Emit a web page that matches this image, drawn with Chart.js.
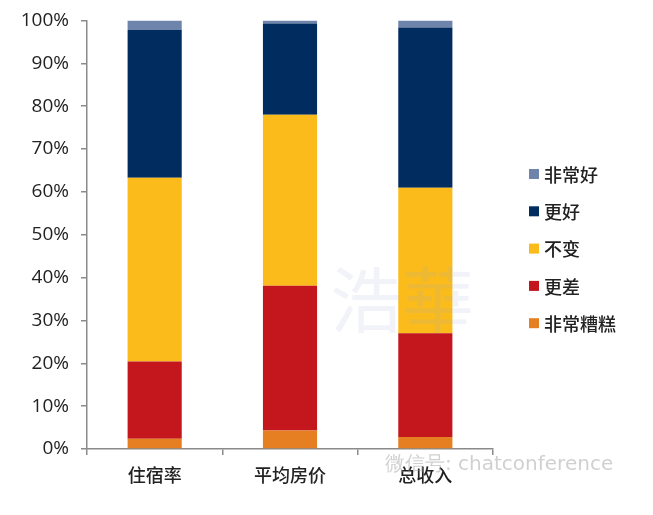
<!DOCTYPE html>
<html>
<head>
<meta charset="utf-8">
<script src="https://cdn.jsdelivr.net/npm/chart.js@4"></script>
<style>
  html, body { margin: 0; padding: 0; background: #fff; }
  #wrap { width: 653px; height: 515px; position: relative; }
</style>
</head>
<body>
<div id="wrap"><canvas id="chart"></canvas></div>
<script>
// categories and series (percent of responses)
var categories = ['住宿率', '平均房价', '总收入'];
var seriesNames = ['非常糟糕', '更差', '不变', '更好', '非常好'];
var veryBad = [2.4, 4.3, 2.8];
var worse = [18.0, 33.8, 24.2];
var same = [42.9, 39.9, 34.0];
var better = [34.5, 21.3, 37.4];
var veryGood = [2.2, 0.7, 1.6];
var yTicks = [0, 10, 20, 30, 40, 50, 60, 70, 80, 90, 100];

var seriesValues = [veryBad, worse, same, better, veryGood];
var seriesColors = ['#e67e22', '#c3161d', '#fbbb1b', '#002c5f', '#6f84ab'];

var datasets = seriesNames.map(function (name, i) {
    return {
        label: name,
        data: seriesValues[i],
        backgroundColor: seriesColors[i],
        borderWidth: 0,
        categoryPercentage: 1,
        barPercentage: 0.4
    };
});

// legend drawn by hand so it sits where the original one does
var sideLegend = {
    id: 'sideLegend',
    afterDraw: function (chart) {
        var ctx = chart.ctx;
        ctx.save();
        ctx.font = '500 18px "Noto Sans CJK SC"';
        ctx.textBaseline = 'middle';
        for (var i = seriesNames.length - 1, row = 0; i >= 0; i--, row++) {
            var y = 175 + row * 37.3;
            ctx.fillStyle = seriesColors[i];
            ctx.fillRect(529, y - 6, 10, 10);
            ctx.fillStyle = '#222';
            ctx.fillText(seriesNames[i], 544, y);
        }
        // faint watermark text
        ctx.fillStyle = 'rgba(160,175,205,0.15)';
        ctx.font = '72px "Noto Sans CJK TC"';
        ctx.fillText('浩華', 330, 300);
        ctx.fillStyle = 'rgba(150,150,150,0.45)';
        ctx.font = '20px "DejaVu Sans"';
        ctx.fillText('微信号: chatconference', 385, 465);
        ctx.restore();
    }
};

new Chart(document.getElementById('chart'), {
    type: 'bar',
    data: { labels: categories, datasets: datasets },
    plugins: [sideLegend],
    options: {
        responsive: true,
        maintainAspectRatio: false,
        animation: false,
        layout: { padding: { top: 18, right: 160, left: 0, bottom: 0 } },
        plugins: {
            legend: { display: false },
            tooltip: { enabled: false }
        },
        scales: {
            x: {
                stacked: true,
                grid: { display: true, drawOnChartArea: false, offset: true, tickLength: 6, color: '#8a8a8a', lineWidth: 1.5 },
                border: { display: true, color: '#8a8a8a', width: 1.5 },
                ticks: { color: '#222', padding: 9, font: { family: '"Noto Sans CJK SC"', size: 18, weight: '500' } },
                afterFit: function (s) { s.height = 66; }
            },
            y: {
                stacked: true,
                min: 0,
                max: 100,
                afterBuildTicks: function (s) { s.ticks = yTicks.map(function (v) { return { value: v }; }); },
                grid: { display: true, drawOnChartArea: false, tickLength: 6, color: '#8a8a8a', lineWidth: 1.5 },
                border: { display: true, color: '#8a8a8a', width: 1.5 },
                ticks: {
                    color: '#222',
                    padding: 12,
                    font: { family: '"Open Sans"', size: 19, lineHeight: 0.9 },
                    callback: function (v) { return v + '%'; }
                },
                afterFit: function (s) { s.width = 87; }
            }
        }
    }
});
</script>
</body>
</html>
